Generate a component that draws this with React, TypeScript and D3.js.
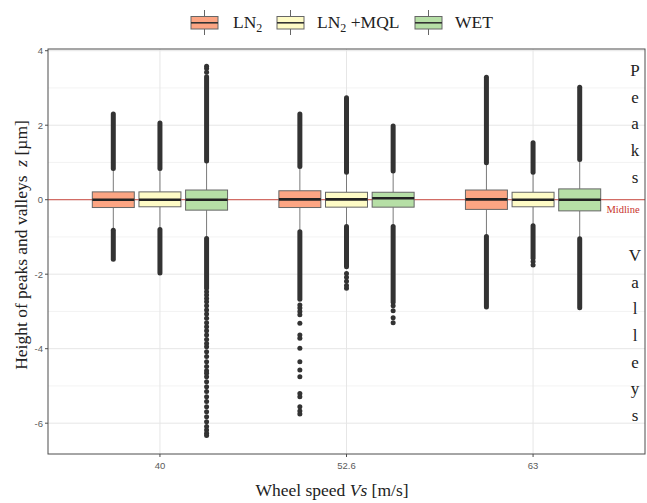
import React from "react";
import * as d3 from "d3";

const speeds = ["40", "52.6", "63"];
const fluids = ["LN2", "LN2+MQL", "WET"];
const fills = ["#fca583", "#fefbc6", "#b6dfa6"];

// [speed][fluid]
const q1 = [[-0.21, -0.19, -0.28], [-0.21, -0.2, -0.2], [-0.26, -0.19, -0.3]];
const median = [[0.0, 0.0, 0.0], [0.01, 0.01, 0.04], [0.01, 0.0, 0.0]];
const q3 = [[0.21, 0.21, 0.26], [0.24, 0.2, 0.2], [0.26, 0.2, 0.29]];
const whiskerLo = [[-0.8, -0.78, -1.0], [-0.84, -0.7, -0.7], [-0.97, -0.68, -1.03]];
const whiskerHi = [[0.82, 0.82, 1.0], [0.87, 0.72, 0.75], [0.97, 0.72, 1.06]];

// dense runs of outliers [from, to]
const upperRuns = [
  [[0.84, 2.3], [0.84, 2.06], [1.04, 3.3]],
  [[0.89, 2.3], [0.74, 2.74], [0.77, 1.98]],
  [[0.99, 3.29], [0.74, 1.53], [1.08, 3.02]],
];
const lowerRuns = [
  [[-0.82, -1.6], [-0.8, -1.97], [-1.04, -2.38]],
  [[-0.86, -2.67], [-0.72, -1.8], [-0.72, -2.75]],
  [[-0.99, -2.88], [-0.7, -1.57], [-1.05, -2.9]],
];
// sparse individual outliers
const sparsePoints = [
  [
    [],
    [],
    [3.42, 3.52, 3.58, -2.47, -2.56, -2.65, -2.74, -2.85, -2.96, -3.07, -3.18, -3.3, -3.41, -3.52, -3.63, -3.75,
      -3.86, -3.95, -4.08, -4.21, -4.35, -4.48, -4.59, -4.66, -4.75, -4.89, -5.02, -5.15, -5.29, -5.42, -5.56,
      -5.69, -5.83, -5.96, -6.09, -6.18, -6.27, -6.33],
  ],
  [
    [-2.83, -2.91, -3.0, -3.09, -3.32, -3.63, -3.72, -3.99, -4.35, -4.57, -4.75, -5.2, -5.29, -5.56, -5.67, -5.75],
    [-1.98, -2.08, -2.19, -2.3, -2.38],
    [-2.85, -2.98, -3.17, -3.3],
  ],
  [[], [-1.66, -1.75], []],
];

const yMajor = [-6, -4, -2, 0, 2, 4];
const yMinor = [-5, -3, -1, 1, 3];
const peaksLetters = ["P", "e", "a", "k", "s"];
const valleysLetters = ["V", "a", "l", "l", "e", "y", "s"];

const W = 647;
const H = 503;
const panel = { left: 48, right: 645, top: 49, bottom: 454 };
const serif = "'Liberation Serif', 'DejaVu Serif', serif";
const sans = "'Liberation Sans', Arial, sans-serif";

export default function App() {
  const x = d3.scalePoint<string>().domain(speeds).range([panel.left, panel.right]).padding(0.6);
  const step = x.step();
  const xInner = d3.scaleBand<string>().domain(fluids).range([-0.375 * step, 0.375 * step]);
  const bw = xInner.bandwidth() * 0.9;
  const y = d3.scaleLinear().domain([-6.827, 4.046]).range([panel.bottom, panel.top]);
  const outlierColor = "#333333";
  const r = 2.5;

  const boxes: React.ReactNode[] = [];
  speeds.forEach((s, i) => {
    fluids.forEach((f, j) => {
      const cx = (x(s) as number) + (xInner(f) as number) + xInner.bandwidth() / 2;
      const runs = [upperRuns[i][j], lowerRuns[i][j]];
      boxes.push(
        <g key={`${s}-${f}`}>
          <line x1={cx} x2={cx} y1={y(q3[i][j])} y2={y(whiskerHi[i][j])} stroke="#7a7a7a" strokeWidth={1} />
          <line x1={cx} x2={cx} y1={y(q1[i][j])} y2={y(whiskerLo[i][j])} stroke="#7a7a7a" strokeWidth={1} />
          {runs.map((rn, k) => (
            <line
              key={k}
              x1={cx}
              x2={cx}
              y1={y(rn[0])}
              y2={y(rn[1])}
              stroke={outlierColor}
              strokeWidth={r * 2}
              strokeLinecap="round"
            />
          ))}
          {sparsePoints[i][j].map((v, k) => (
            <circle key={`p${k}`} cx={cx} cy={y(v)} r={r} fill={outlierColor} />
          ))}
          <rect
            x={cx - bw / 2}
            y={y(q3[i][j])}
            width={bw}
            height={y(q1[i][j]) - y(q3[i][j])}
            fill={fills[j]}
            stroke="#666666"
            strokeWidth={1}
          />
          <line
            x1={cx - bw / 2}
            x2={cx + bw / 2}
            y1={y(median[i][j])}
            y2={y(median[i][j])}
            stroke="#222222"
            strokeWidth={2.6}
          />
        </g>
      );
    });
  });

  // legend
  const legendKeysX = [191, 277, 415];
  const legendLabelX = [233, 317, 455];
  const legendLabel = (f: string) => {
    if (f === "LN2")
      return (
        <>
          LN<tspan fontSize={12} dy={4}>2</tspan>
        </>
      );
    if (f === "LN2+MQL")
      return (
        <>
          LN<tspan fontSize={12} dy={4}>2</tspan>
          <tspan dy={-4}> +MQL</tspan>
        </>
      );
    return <>{f}</>;
  };

  return (
    <svg width={W} height={H} style={{ position: "absolute", left: 0, top: 0, background: "#fff" }}>
      <rect x={0} y={0} width={W} height={H} fill="#fff" />
      {/* grid */}
      {yMinor.map((v) => (
        <line key={`mi${v}`} x1={panel.left} x2={panel.right} y1={y(v)} y2={y(v)} stroke="#f0f0f0" strokeWidth={0.8} />
      ))}
      {yMajor.map((v) => (
        <line key={`ma${v}`} x1={panel.left} x2={panel.right} y1={y(v)} y2={y(v)} stroke="#e6e6e6" strokeWidth={1} />
      ))}
      {speeds.map((s) => (
        <line key={`gx${s}`} x1={x(s)} x2={x(s)} y1={panel.top} y2={panel.bottom} stroke="#e6e6e6" strokeWidth={1} />
      ))}
      {/* midline */}
      <line x1={panel.left} x2={panel.right} y1={y(0)} y2={y(0)} stroke="#c83a30" strokeWidth={0.9} />
      {boxes}
      {/* panel border */}
      <rect
        x={panel.left}
        y={panel.top}
        width={panel.right - panel.left}
        height={panel.bottom - panel.top}
        fill="none"
        stroke="#4d4d4d"
        strokeWidth={1}
      />
      {/* y axis */}
      {yMajor.map((v) => (
        <g key={`yt${v}`}>
          <line x1={panel.left - 3} x2={panel.left} y1={y(v)} y2={y(v)} stroke="#4d4d4d" />
          <text x={panel.left - 5} y={y(v)} dy="0.35em" textAnchor="end" fontSize={9.5} fill="#5a5a5a" fontFamily={sans}>
            {v}
          </text>
        </g>
      ))}
      {/* x axis */}
      {speeds.map((s) => (
        <g key={`xt${s}`}>
          <line x1={x(s)} x2={x(s)} y1={panel.bottom} y2={panel.bottom + 3} stroke="#4d4d4d" />
          <text x={x(s)} y={panel.bottom + 15} textAnchor="middle" fontSize={9.5} fill="#5a5a5a" fontFamily={sans}>
            {s}
          </text>
        </g>
      ))}
      {/* axis titles */}
      <text x={332} y={496} textAnchor="middle" fontSize={17.5} fontFamily={serif} fill="#222">
        Wheel speed <tspan fontStyle="italic">Vs</tspan> [m/s]
      </text>
      <text
        transform={`translate(27, 245) rotate(-90)`}
        textAnchor="middle"
        fontSize={17.5}
        fontFamily={serif}
        fill="#222"
      >
        Height of peaks and valleys{"\u2002"}<tspan fontStyle="italic">z</tspan> [µm]
      </text>
      {/* right annotations */}
      {peaksLetters.map((c, k) => (
        <text key={`pk${k}`} x={635} y={70 + k * 26.7} dy="0.35em" textAnchor="middle" fontSize={17} fontFamily={serif} fill="#222">
          {c}
        </text>
      ))}
      {valleysLetters.map((c, k) => (
        <text key={`vl${k}`} x={635} y={255 + k * 26.7} dy="0.35em" textAnchor="middle" fontSize={17} fontFamily={serif} fill="#222">
          {c}
        </text>
      ))}
      <text x={623} y={209} dy="0.35em" textAnchor="middle" fontSize={10.5} fontFamily={serif} fill="#c8332b">
        Midline
      </text>
      {/* legend */}
      {fluids.map((f, j) => {
        const kx = legendKeysX[j];
        const kw = 27;
        return (
          <g key={`lg${f}`}>
            <line x1={kx + kw / 2} x2={kx + kw / 2} y1={10} y2={35} stroke="#666" strokeWidth={1} />
            <rect x={kx} y={16.5} width={kw} height={12.5} fill={fills[j]} stroke="#666" strokeWidth={1} />
            <line x1={kx} x2={kx + kw} y1={22.8} y2={22.8} stroke="#333" strokeWidth={1.6} />
            <text x={legendLabelX[j]} y={28} fontSize={17.5} fontFamily={serif} fill="#222">
              {legendLabel(f)}
            </text>
          </g>
        );
      })}
    </svg>
  );
}
